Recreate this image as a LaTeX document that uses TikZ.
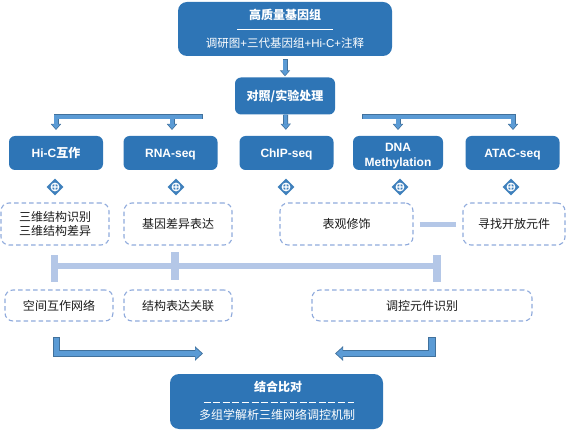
\documentclass[tikz,border=0pt]{standalone}
\usepackage{fontspec}
\setmainfont{Noto Sans CJK SC}
\newfontfamily\latfont{Liberation Sans}
\usetikzlibrary{arrows.meta,shapes.geometric}
\definecolor{boxblue}{HTML}{2E75B6}
\definecolor{arrowdark}{HTML}{41719C}
\definecolor{arrowfill}{HTML}{5B9BD5}
\definecolor{dashblue}{HTML}{8FAADC}
\definecolor{barblue}{HTML}{B4C7E7}
\definecolor{txtdark}{HTML}{1A1A1A}
\tikzset{
  bigbox/.style={fill=boxblue, rounded corners=9pt, inner sep=0pt},
  titletxt/.style={text=white, font=\fontsize{12pt}{14pt}\selectfont\bfseries, inner sep=0pt},
  subtxt/.style={text=white, font=\fontsize{11.5pt}{14pt}\selectfont, inner sep=0pt},
  bluebox/.style={fill=boxblue, rounded corners=6pt, text=white, align=center,
    font=\fontsize{12pt}{15pt}\selectfont\bfseries, inner sep=0pt},
  seqbox/.style={bluebox, minimum width=94pt, minimum height=34pt},
  oneline/.style={text height=8.6pt, text depth=0pt},
  dnatext/.style={text=white, align=center, inner sep=0pt,
    font=\fontsize{12pt}{15pt}\selectfont\bfseries\latfont},
  dashbox/.style={draw=dashblue, line width=1.1pt, dash pattern=on 4.5pt off 3pt,
    rounded corners=8pt, align=center, text=txtdark,
    font=\fontsize{12pt}{13.5pt}\selectfont, inner sep=0pt},
  icon/.style={diamond, fill=boxblue!92!white, minimum width=17pt, minimum height=17pt, inner sep=0pt},
  iconmark/.style={draw=white, line width=1.1pt},
  bar/.style={fill=barblue, minimum width=7.5pt, minimum height=27pt, inner sep=0pt},
  bracket/.style={draw=barblue, line width=6pt},
  aout/.style={draw=arrowdark, line width=5pt, -{Triangle[width=10pt,length=6pt]}},
  ain/.style={draw=arrowfill, line width=3.2pt, -{Triangle[width=7.4pt,length=4.4pt]},
    shorten >=1.1pt, shorten <=0.9pt},
  bout/.style={draw=arrowdark, line width=7.5pt, -{Triangle[width=14pt,length=8pt]}},
  bin/.style={draw=arrowfill, line width=5.5pt, -{Triangle[width=11pt,length=6.4pt]},
    shorten >=1.3pt, shorten <=1pt},
}
\begin{document}
\begin{tikzpicture}[x=1pt,y=-1pt]
\useasboundingbox (0,0) rectangle (567,430);

% top box
\node[bigbox, minimum width=214pt, minimum height=54pt] (top) at (285,29) {};
\node[titletxt] (toptitle) at (285,15) {高质量基因组};
\draw[white, line width=0.8pt] ([xshift=-48pt]top.center) -- ([xshift=48pt]top.center);
\node[subtxt] (topsub) at (285,43) {调研图{\latfont +}三代基因组{\latfont +Hi-C+}注释};

% control box
\node[bluebox, minimum width=100pt, minimum height=37pt] (ctrl) at (285,96) {对照/实验处理};

% sequencing boxes
\node[seqbox, oneline] (hic) at (56,153) {{\latfont Hi-C}互作};
\node[seqbox, oneline] (rna) at (170.5,153) {\latfont RNA-seq};
\node[seqbox, oneline] (chip) at (286.5,153) {\latfont ChIP-seq};
\node[seqbox, minimum width=90pt] (dna) at (398,153) {};
\node[dnatext] (dnalabel) at (398,156) {DNA\\Methylation};
\node[seqbox, oneline] (atac) at (512.5,153) {\latfont ATAC-seq};

% connector coordinates
\coordinate (ls) at (203,117);
\coordinate (lc) at (56,117);
\coordinate (le1) at (56,130);
\coordinate (lb) at (172,117);
\coordinate (le2) at (172,130);
\coordinate (rs) at (362,117);
\coordinate (rc) at (513,117);
\coordinate (re1) at (513,130);
\coordinate (rb) at (398,117);
\coordinate (re2) at (398,130);

% outer passes
\draw[aout, shorten <=3pt, shorten >=1pt] (top) -- (ctrl);
\draw[aout, shorten >=6pt] (ctrl) -- (chip);
\draw[aout] (ls) -- (lc) -- (le1);
\draw[aout] (lb) -- (le2);
\draw[aout] (rs) -- (rc) -- (re1);
\draw[aout] (rb) -- (re2);
% inner passes
\draw[ain, shorten <=3.9pt, shorten >=2.1pt] (top) -- (ctrl);
\draw[ain, shorten <=0pt, shorten >=7.1pt] (ctrl) -- (chip);
\draw[ain] (ls) -- (lc) -- (le1);
\draw[ain, shorten <=0pt] (lb) -- (le2);
\draw[ain] (rs) -- (rc) -- (re1);
\draw[ain, shorten <=0pt] (rb) -- (re2);

% icons
\node[icon] (i1) at (55,187) {};
\node[icon] (i2) at (176,187) {};
\node[icon] (i3) at (286,187) {};
\node[icon] (i4) at (400,187) {};
\node[icon] (i5) at (511,187) {};
\foreach \n in {i1,i2,i3,i4,i5}{
  \draw[iconmark] (\n.center) circle (3.8pt)
    ([xshift=-3.8pt]\n.center) -- ([xshift=3.8pt]\n.center)
    ([yshift=-3.8pt]\n.center) -- ([yshift=3.8pt]\n.center);
}

% dashed boxes row 1
\node[dashbox, minimum width=108pt, minimum height=42pt] (d1) at (55,224) {三维结构识别\\三维结构差异};
\node[dashbox, minimum width=108pt, minimum height=42pt] (d2) at (178,224) {基因差异表达};
\node[dashbox, minimum width=133pt, minimum height=42pt] (d3) at (346.5,224) {表观修饰};
\node[dashbox, minimum width=102pt, minimum height=42pt] (d4) at (514,224) {寻找开放元件};
\draw[draw=barblue, line width=5pt] ([xshift=6pt]d3.east |- 0,225) -- ([xshift=-6pt]d4.west |- 0,225);

% bracket
\node[bar] (b1) at (54.5,268) {};
\node[bar] (b2) at (175,266) {};
\node[bar] (b3) at (437,268) {};
\draw[bracket] (b1.east |- b2) -- (b3.west |- b2);

% dashed boxes row 2
\node[dashbox, minimum width=108pt, minimum height=31pt] (e1) at (59,305.5) {空间互作网络};
\node[dashbox, minimum width=108pt, minimum height=31pt] (e2) at (178,305.5) {结构表达关联};
\node[dashbox, minimum width=220pt, minimum height=31pt] (e3) at (422,305.5) {调控元件识别};

% big arrows
\coordinate (lb1) at (56.5,337);
\coordinate (lb2) at (203,353.5);
\coordinate (rb1) at (432,337);
\coordinate (rb2) at (335,353.5);
\draw[bout] (lb1) |- (lb2);
\draw[bout] (rb1) |- (rb2);
\draw[bin] (lb1) |- (lb2);
\draw[bin] (rb1) |- (rb2);

% final box
\node[bigbox, minimum width=213pt, minimum height=55pt] (final) at (276.5,401.5) {};
\node[titletxt] (fintitle) at (278,387) {结合比对};
\draw[white, line width=0.8pt, dash pattern=on 7pt off 2.6pt] ([xshift=-73pt,yshift=-0.5pt]final.center) -- ([xshift=77pt,yshift=-0.5pt]final.center);
\node[subtxt, font=\fontsize{12pt}{14pt}\selectfont] (finsub) at (277,415) {多组学解析三维网络调控机制};
\end{tikzpicture}
\end{document}
